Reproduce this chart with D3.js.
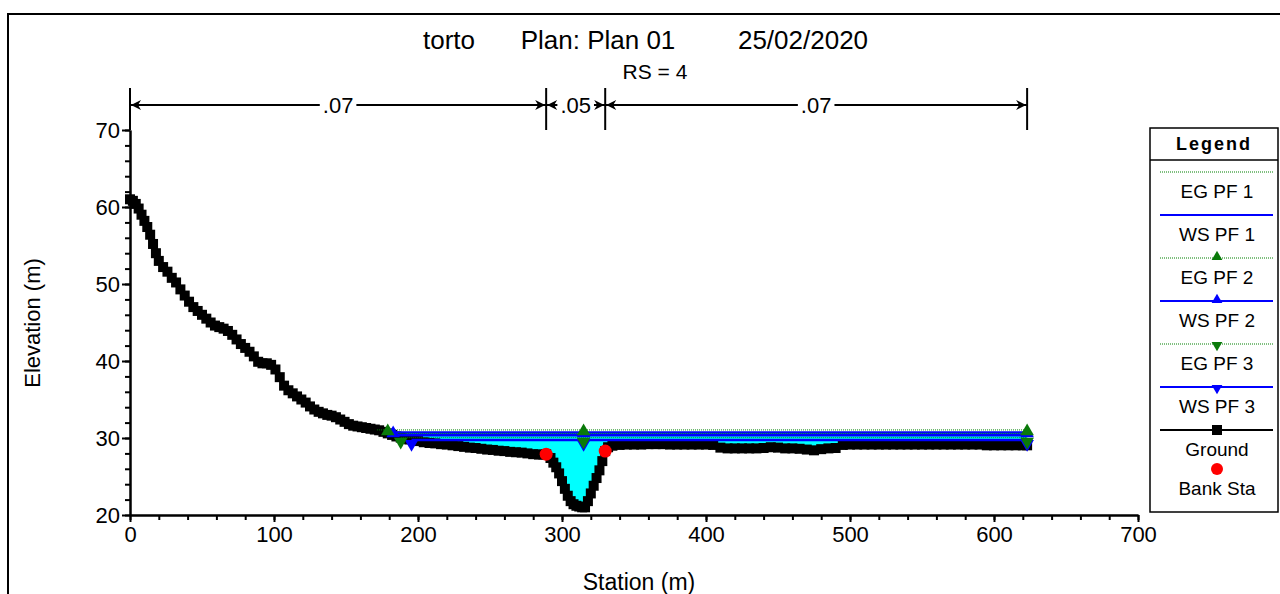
<!DOCTYPE html>
<html>
<head>
<meta charset="utf-8">
<script src="https://cdn.jsdelivr.net/npm/d3@7"></script>
<style>
  body { margin: 0; background: #fff; }
  text { font-family: "Liberation Sans", Arial, sans-serif; fill: #000; }
</style>
</head>
<body>
<svg id="chart" width="1280" height="594"></svg>
<script>
// ground survey points (station m, elevation m)
var groundSta = [0, 2, 4, 6, 8, 10, 12, 14, 16, 18, 20, 23, 26, 29, 32, 35, 38, 41, 44, 47, 50,
  53, 56, 59, 62, 65, 68, 71, 74, 77, 80, 83, 86, 89, 92, 95, 98, 101, 104, 107, 110,
  113, 116, 119, 122, 125, 128, 131, 134, 137, 140, 143, 146, 149, 152, 155, 158, 161, 164, 167, 170,
  173, 176, 179, 182, 185, 188, 191, 194, 197, 200, 204, 208, 212, 216, 220, 224, 228, 232, 236, 240,
  244, 248, 252, 256, 260, 264, 268, 272, 276, 280, 284, 287, 289, 292, 294, 296, 298, 300, 302, 304,
  306, 308, 310, 312, 314, 316, 318, 320, 322, 324, 326, 328, 330, 332, 335, 340, 345, 350, 355, 360,
  365, 370, 375, 380, 385, 390, 395, 400, 405, 410, 415, 420, 425, 430, 435, 440, 445, 450, 455, 460,
  465, 470, 475, 480, 485, 490, 495, 500, 505, 510, 515, 520, 525, 530, 535, 540, 545, 550, 555, 560,
  565, 570, 575, 580, 585, 590, 595, 600, 605, 610, 615, 620, 623];
var groundElev = [61.0, 60.8, 60.4, 59.8, 59.0, 58.2, 57.4, 56.4, 55.2, 54.0, 53.0, 52.2, 51.6, 50.8, 50.2, 49.3, 48.5, 47.7, 47.0, 46.5, 46.0,
  45.5, 45.0, 44.6, 44.4, 44.2, 43.9, 43.4, 42.8, 42.2, 41.7, 41.2, 40.6, 39.9, 39.7, 39.7, 39.5, 38.9, 37.9, 36.8, 36.2,
  35.8, 35.4, 35.0, 34.6, 34.1, 33.7, 33.4, 33.2, 33.0, 32.9, 32.7, 32.4, 32.1, 31.8, 31.6, 31.5, 31.4, 31.3, 31.2, 31.1,
  31.0, 30.8, 30.6, 30.4, 30.2, 30.05, 29.9, 29.8, 29.7, 29.6, 29.45, 29.35, 29.3, 29.2, 29.15, 29.05, 28.95, 28.85, 28.75, 28.7,
  28.6, 28.5, 28.45, 28.35, 28.3, 28.2, 28.15, 28.1, 28.0, 27.9, 27.85, 27.85, 27.9, 27.4, 26.8, 26.2, 25.4, 24.4, 23.4, 22.5,
  21.8, 21.4, 21.2, 21.1, 21.0, 21.0, 21.8, 22.8, 23.8, 24.8, 25.8, 27.0, 28.3, 28.8, 29.0, 29.1, 29.15, 29.15, 29.15, 29.2,
  29.2, 29.2, 29.15, 29.15, 29.15, 29.15, 29.15, 29.15, 29.1, 28.75, 28.65, 28.65, 28.65, 28.65, 28.65, 28.7, 28.8, 28.75, 28.65, 28.65,
  28.6, 28.5, 28.4, 28.55, 28.65, 28.7, 29.1, 29.15, 29.15, 29.15, 29.15, 29.15, 29.15, 29.15, 29.15, 29.15, 29.15, 29.15, 29.15, 29.15,
  29.15, 29.15, 29.15, 29.15, 29.15, 29.15, 29.05, 29.05, 29.05, 29.05, 29.05, 29.05, 29.05];
var bankSta = [289, 330];

// Manning's n bands
var nSta = [0, 289, 330, 623];
var nVal = [".07", ".05", ".07"];

// profiles
var profileNames = ["PF 1", "PF 2", "PF 3"];
var wsElev = [30.7, 30.35, 29.75];
var egElev = [31.05, 30.6, 30.05];
var markerMidSta = 315;

var xTicks = [0, 100, 200, 300, 400, 500, 600, 700];
var yTicks = [20, 30, 40, 50, 60, 70];

var legendNames = ["EG PF 1", "WS PF 1", "EG PF 2", "WS PF 2", "EG PF 3", "WS PF 3", "Ground", "Bank Sta"];

var svg = d3.select("#chart");
var x = d3.scaleLinear().domain([0, 700]).range([130, 1138]);
var y = d3.scaleLinear().domain([20, 70]).range([515, 130]);

var ground = groundSta.map(function (s, i) { return { sta: s, elev: groundElev[i] }; });
function groundAt(s) {
  for (var i = 1; i < ground.length; i++) {
    if (ground[i].sta >= s) {
      var a = ground[i - 1], b = ground[i];
      return a.elev + (b.elev - a.elev) * (s - a.sta) / (b.sta - a.sta);
    }
  }
  return ground[ground.length - 1].elev;
}
function leftEdge(level) {
  for (var i = 1; i < ground.length; i++) {
    if (ground[i].elev <= level && ground[i - 1].elev > level) {
      var a = ground[i - 1], b = ground[i];
      return a.sta + (level - a.elev) * (b.sta - a.sta) / (b.elev - a.elev);
    }
  }
  return ground[0].sta;
}
var endSta = groundSta[groundSta.length - 1];

// outer frame
svg.append("path").attr("d", "M8,594 L8,14 L1280,14").attr("fill", "none").attr("stroke", "#000").attr("stroke-width", 2);

// title
svg.append("text").attr("x", 449).attr("y", 49).attr("text-anchor", "middle").attr("font-size", 26).text("torto");
svg.append("text").attr("x", 598).attr("y", 49).attr("text-anchor", "middle").attr("font-size", 26).text("Plan: Plan 01");
svg.append("text").attr("x", 803).attr("y", 49).attr("text-anchor", "middle").attr("font-size", 26).text("25/02/2020");
svg.append("text").attr("x", 655).attr("y", 79).attr("text-anchor", "middle").attr("font-size", 21).text("RS = 4");

// water fill under the highest water surface
var wsTop = d3.max(wsElev);
var fillArea = d3.area()
  .x(function (d) { return x(d.sta); })
  .y0(y(wsTop))
  .y1(function (d) { return y(Math.min(d.elev, wsTop)); });
svg.append("path").datum(ground).attr("d", fillArea).attr("fill", "#00ffff");

// ground
svg.append("path").datum(ground)
  .attr("d", d3.line().x(function (d) { return x(d.sta); }).y(function (d) { return y(d.elev); }))
  .attr("fill", "none").attr("stroke", "#000").attr("stroke-width", 2);
svg.append("g").selectAll("rect").data(ground).enter().append("rect")
  .attr("x", function (d) { return x(d.sta) - 5; })
  .attr("y", function (d) { return y(d.elev) - 5; })
  .attr("width", 10).attr("height", 10).attr("fill", "#000");

// bank stations
svg.append("g").selectAll("circle").data(bankSta).enter().append("circle")
  .attr("cx", function (d) { return x(d); })
  .attr("cy", function (d) { return y(groundAt(d)); })
  .attr("r", 6.5).attr("fill", "#ff0000");

// water surface and energy grade lines
function levelLine(level, color, width, dash) {
  var s0 = leftEdge(level);
  svg.append("line")
    .attr("x1", x(s0)).attr("x2", x(endSta))
    .attr("y1", y(level)).attr("y2", y(level))
    .attr("stroke", color).attr("stroke-width", width)
    .attr("stroke-dasharray", dash || null);
}
profileNames.forEach(function (p, i) {
  levelLine(wsElev[i], "#0000ff", 2.5);
  levelLine(egElev[i], "#008000", 1, "1,1");
});

var tri = d3.symbol().type(d3.symbolTriangle).size(80);
function marker(sta, level, color, down) {
  svg.append("path").attr("d", tri())
    .attr("transform", "translate(" + x(sta) + "," + (y(level) + (down ? 4 : -2)) + ")" + (down ? " rotate(180)" : ""))
    .attr("fill", color);
}
// PF 2 (up) and PF 3 (down) markers
[[1, false], [2, true]].forEach(function (m) {
  var i = m[0], down = m[1];
  [leftEdge(wsElev[i]), markerMidSta, endSta].forEach(function (s) { marker(s, wsElev[i], "#0000ff", down); });
});
[[1, false], [2, true]].forEach(function (m) {
  var i = m[0], down = m[1];
  [leftEdge(egElev[i]), markerMidSta, endSta].forEach(function (s) { marker(s, egElev[i], "#0a7a0a", down); });
});

// axes
function styleAxis(g) {
  g.select(".domain").attr("stroke", "#000").attr("stroke-width", 2);
  g.selectAll(".tick line").attr("stroke", "#000").attr("stroke-width", 2);
  g.selectAll(".tick text").attr("font-size", 22).attr("font-family", "Liberation Sans, Arial, sans-serif");
}
svg.append("g").attr("transform", "translate(0,515)")
  .call(d3.axisBottom(x).tickValues(d3.range(0, 701, 20)).tickSize(5).tickSizeOuter(0).tickFormat(""))
  .call(styleAxis);
svg.append("g").attr("transform", "translate(0,515)")
  .call(d3.axisBottom(x).tickValues(xTicks).tickSize(7).tickSizeOuter(0).tickPadding(4))
  .call(styleAxis);
svg.append("g").attr("transform", "translate(130,0)")
  .call(d3.axisLeft(y).tickValues(d3.range(20, 71, 2)).tickSize(5).tickSizeOuter(0).tickFormat(""))
  .call(styleAxis);
svg.append("g").attr("transform", "translate(130,0)")
  .call(d3.axisLeft(y).tickValues(yTicks).tickSize(8).tickSizeOuter(0).tickPadding(2))
  .call(styleAxis);

svg.append("text").attr("x", 639).attr("y", 590).attr("text-anchor", "middle").attr("font-size", 23).text("Station (m)");
svg.append("text").attr("transform", "translate(40,323) rotate(-90)").attr("text-anchor", "middle").attr("font-size", 22).text("Elevation (m)");

// Manning's n bands above plot
var nY = 105;
svg.append("g").selectAll("line").data(nSta).enter().append("line")
  .attr("x1", function (d) { return x(d); }).attr("x2", function (d) { return x(d); })
  .attr("y1", 88).attr("y2", 130).attr("stroke", "#000").attr("stroke-width", 2);
var arrowHead = "M0,0 L-10,-5 L-7,0 L-10,5 Z";
nVal.forEach(function (v, i) {
  var xa = x(nSta[i]), xb = x(nSta[i + 1]);
  var g = svg.append("g");
  g.append("line").attr("x1", xa).attr("x2", xb).attr("y1", nY).attr("y2", nY)
    .attr("stroke", "#000").attr("stroke-width", 2);
  g.append("path").attr("d", arrowHead).attr("transform", "translate(" + (xa + 1) + "," + nY + ") rotate(180)").attr("fill", "#000");
  g.append("path").attr("d", arrowHead).attr("transform", "translate(" + (xb - 1) + "," + nY + ")").attr("fill", "#000");
  var bg = g.append("rect").attr("fill", "#fff");
  var t = g.append("text").attr("x", (xa + xb) / 2).attr("y", nY + 8).attr("text-anchor", "middle")
    .attr("font-size", 22).text(v);
  var bb = t.node().getBBox();
  bg.attr("x", bb.x - 3).attr("y", nY - 3).attr("width", bb.width + 6).attr("height", 6);
});

// legend
var lg = svg.append("g");
lg.append("rect").attr("x", 1150).attr("y", 128).attr("width", 128).attr("height", 384)
  .attr("fill", "#fff").attr("stroke", "#000").attr("stroke-width", 1.5);
lg.append("line").attr("x1", 1150).attr("x2", 1278).attr("y1", 160).attr("y2", 160).attr("stroke", "#000").attr("stroke-width", 1.5);
lg.append("text").attr("x", 1214).attr("y", 150).attr("text-anchor", "middle").attr("font-size", 18)
  .attr("font-weight", "bold").attr("letter-spacing", 2).text("Legend");
var lx0 = 1160, lx1 = 1273, lmx = 1217;
legendNames.forEach(function (name, i) {
  var ly = 172 + i * 43;
  if (i < 6) {
    var isWS = name.indexOf("WS") === 0;
    lg.append("line").attr("x1", lx0).attr("x2", lx1).attr("y1", ly).attr("y2", ly)
      .attr("stroke", isWS ? "#0000ff" : "#008000").attr("stroke-width", isWS ? 2 : 1)
      .attr("stroke-dasharray", isWS ? null : "1,1");
    if (i >= 2) {
      var down = i >= 4;
      lg.append("path").attr("d", d3.symbol().type(d3.symbolTriangle).size(50)())
        .attr("transform", "translate(" + lmx + "," + (ly + (down ? 1 : -1)) + ")" + (down ? " rotate(180)" : ""))
        .attr("fill", isWS ? "#0000ff" : "#0a7a0a");
    }
  } else if (i === 6) {
    lg.append("line").attr("x1", lx0).attr("x2", lx1).attr("y1", ly).attr("y2", ly).attr("stroke", "#000").attr("stroke-width", 2);
    lg.append("rect").attr("x", lmx - 5).attr("y", ly - 5).attr("width", 10).attr("height", 10).attr("fill", "#000");
  } else {
    lg.append("circle").attr("cx", lmx).attr("cy", ly - 4).attr("r", 6).attr("fill", "#ff0000");
  }
  lg.append("text").attr("x", lmx).attr("y", ly + (i === 7 ? 22 : 26)).attr("text-anchor", "middle").attr("font-size", 19).text(name);
});
</script>
</body>
</html>
